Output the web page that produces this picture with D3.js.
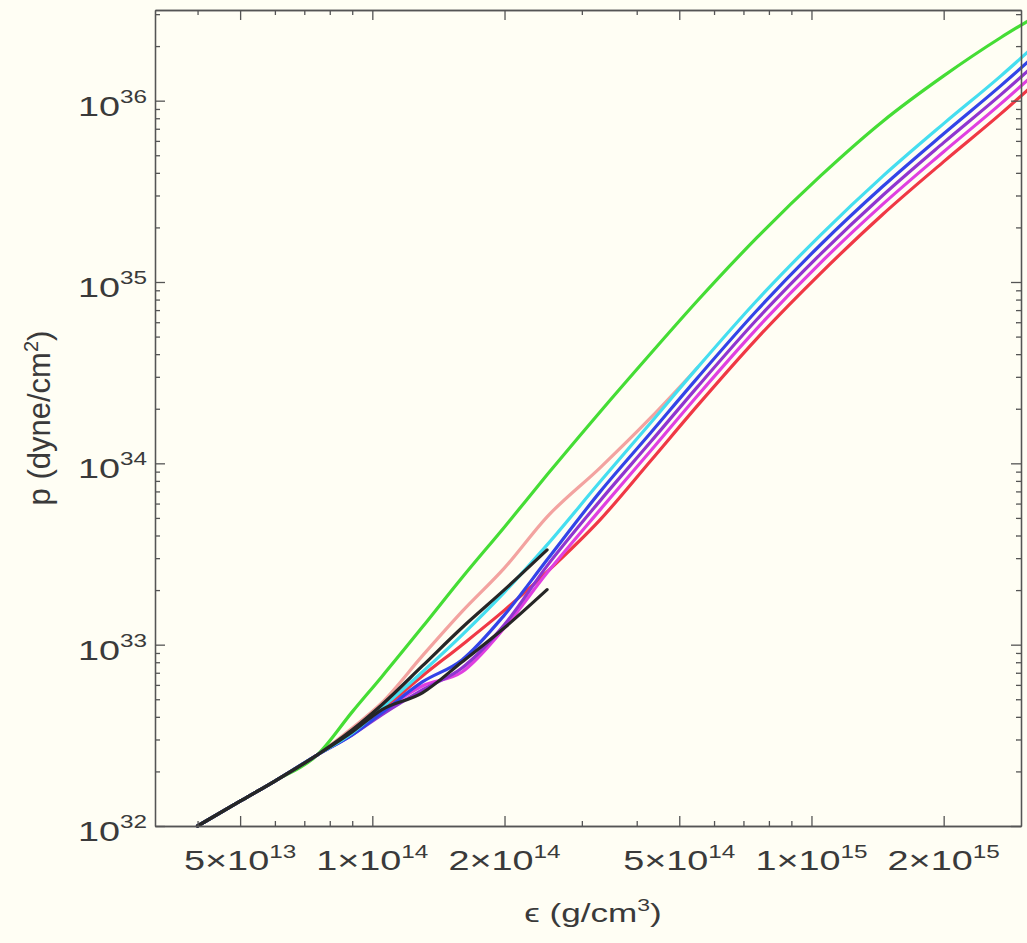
<!DOCTYPE html>
<html><head><meta charset="utf-8">
<script src="https://cdn.jsdelivr.net/npm/d3@7"></script>
<style>
html,body{margin:0;padding:0;background:#fffef4;}
svg{display:block;}
text{font-family:"Liberation Sans",Arial,Helvetica,sans-serif;fill:#3a3a3a;}
</style></head><body>
<svg id="chart" width="1027" height="943"></svg>
<script>
// energy density grid (g/cm^3)
const epsGrid = [4e13, 5e13, 6e13, 7.5e13, 9e13, 1.05e14, 1.3e14, 1.6e14, 2e14, 2.5e14,
                 3.3e14, 4.3e14, 5.5e14, 7.5e14, 1.05e15, 1.45e15, 2e15, 2.7e15, 3.15e15];
// pressure (dyne/cm^2) for each EOS, aligned with epsGrid (null = not present)
const pGreen   = [1.0e32, 1.37e32, 1.77e32, 2.47e32, 4.26e32, 6.64e32, 1.25e33, 2.34e33, 4.46e33, 8.64e33,
                  1.92e34, 4.02e34, 7.88e34, 1.75e35, 3.86e35, 7.66e35, 1.37e36, 2.23e36, 2.80e36];
const pCyan    = [1.0e32, 1.37e32, 1.77e32, 2.47e32, 3.26e32, 4.48e32, 7.07e32, 1.13e33, 1.95e33, 3.55e33,
                  7.91e33, 1.67e34, 3.37e34, 7.88e34, 1.82e35, 3.81e35, 7.47e35, 1.37e36, 1.91e36];
const pBlue    = [1.0e32, 1.37e32, 1.77e32, 2.47e32, 3.18e32, 4.20e32, 6.23e32, 8.24e32, 1.46e33, 2.94e33,
                  6.96e33, 1.47e34, 2.96e34, 6.94e34, 1.61e35, 3.35e35, 6.57e35, 1.21e36, 1.68e36];
const pPurple  = [1.0e32, 1.37e32, 1.77e32, 2.47e32, 3.18e32, 4.10e32, 5.63e32, 7.44e32, 1.29e33, 2.72e33,
                  6.21e33, 1.31e34, 2.64e34, 6.19e34, 1.43e35, 2.99e35, 5.87e35, 1.08e36, 1.50e36];
const pMagenta = [1.0e32, 1.37e32, 1.77e32, 2.47e32, 3.22e32, 4.26e32, 5.92e32, 7.07e32, 1.24e33, 2.49e33,
                  5.54e33, 1.17e34, 2.36e34, 5.52e34, 1.28e35, 2.67e35, 5.23e35, 9.63e35, 1.34e36];
const pRed     = [1.0e32, 1.37e32, 1.77e32, 2.47e32, 3.30e32, 4.37e32, 6.72e32, 9.97e32, 1.55e33, 2.52e33,
                  4.88e33, 1.03e34, 2.08e34, 4.86e34, 1.12e35, 2.35e35, 4.61e35, 8.48e35, 1.18e36];
const pSalmon  = [1.0e32, 1.37e32, 1.77e32, 2.47e32, 3.47e32, 4.77e32, 8.67e32, 1.52e33, 2.65e33, 5.07e33,
                  9.45e33, 1.78e34, 3.37e34, null, null, null, null, null, null];
const pBlackA  = [1.0e32, 1.37e32, 1.77e32, 2.47e32, 3.39e32, 4.65e32, 7.63e32, 1.24e33, 2.01e33, 3.33e33,
                  null, null, null, null, null, null, null, null, null];
const pBlackB  = [1.0e32, 1.37e32, 1.77e32, 2.47e32, 3.30e32, 4.37e32, 5.42e32, 8.03e32, 1.24e33, 2.01e33,
                  null, null, null, null, null, null, null, null, null];

const seriesNames  = ["salmon", "green", "red", "magenta", "purple", "blue", "cyan", "blackB", "blackA"];
const seriesValues = [pSalmon, pGreen, pRed, pMagenta, pPurple, pBlue, pCyan, pBlackB, pBlackA];
const seriesColors = ["#f3a3a0", "#45dd35", "#f03845", "#e040e0", "#9035d0", "#3343e8", "#45def0", "#262626", "#262626"];

// axis ticks
const xMajor = [5e13, 1e14, 2e14, 5e14, 1e15, 2e15];
const xMajorMant = ["5", "1", "2", "5", "1", "2"];
const xMajorExp  = ["13", "14", "14", "14", "15", "15"];
const xMinor = [4e13, 6e13, 7e13, 8e13, 9e13, 3e14, 4e14, 6e14, 7e14, 8e14, 9e14];
const yMajor = [1e32, 1e33, 1e34, 1e35, 1e36];
const yMajorExp = ["32", "33", "34", "35", "36"];
const yMinorMult = [2, 3, 4, 5, 6, 7, 8, 9];

const L = 155, R = 1021, T = 10, B = 826;
const svg = d3.select("#chart");
svg.append("rect").attr("width", 1027).attr("height", 943).attr("fill", "#fffef4");

const x = d3.scaleLog().domain([3.2e13, 3.0e15]).range([L, R]);
const y = d3.scaleLog().domain([1e32, Math.pow(10, 36.5)]).range([B, T]);

const yMinor = [];
yMajor.forEach(v => yMinorMult.forEach(m => { if (v * m < y.domain()[1]) yMinor.push(v * m); }));

// curves
const line = d3.line()
  .defined(d => d[1] != null)
  .x(d => x(d[0])).y(d => y(d[1]))
  .curve(d3.curveMonotoneX);

seriesValues.forEach((vals, i) => {
  const pts = epsGrid.map((e, j) => [e, vals[j]]);
  svg.append("path")
    .datum(pts)
    .attr("class", "eos " + seriesNames[i])
    .attr("fill", "none")
    .attr("stroke", seriesColors[i])
    .attr("stroke-width", 3.2)
    .attr("stroke-linejoin", "round")
    .attr("stroke-linecap", "round")
    .attr("d", line);
});

// axes (ticks pointing inward on all sides)
function styleAxis(g) {
  g.selectAll(".domain, .tick line").attr("stroke", "#555").attr("stroke-width", 1.3);
  g.selectAll("text").remove();
}
const axes = [
  [d3.axisTop, `translate(0,${B})`, x, xMajor, xMinor],
  [d3.axisBottom, `translate(0,${T})`, x, xMajor, xMinor],
  [d3.axisRight, `translate(${L},0)`, y, yMajor, yMinor],
  [d3.axisLeft, `translate(${R},0)`, y, yMajor, yMinor]
];
axes.forEach(([fn, tr, sc, maj, min]) => {
  svg.append("g").attr("transform", tr)
    .call(fn(sc).tickValues(min).tickSize(5).tickSizeOuter(0).tickFormat(""))
    .call(styleAxis);
  svg.append("g").attr("transform", tr)
    .call(fn(sc).tickValues(maj).tickSize(10).tickSizeOuter(0).tickFormat(""))
    .call(styleAxis);
});

// x tick labels
xMajor.forEach((v, i) => {
  const t = svg.append("text")
    .attr("transform", `translate(${x(v)},870) scale(1.35,1)`)
    .attr("text-anchor", "middle")
    .style("font-size", "28px");
  t.append("tspan").text(xMajorMant[i] + "×10");
  t.append("tspan").attr("dy", -12).style("font-size", "18px").text(xMajorExp[i]);
});

// y tick labels
yMajor.forEach((v, i) => {
  const t = svg.append("text")
    .attr("transform", `translate(147,${y(v) + 15}) scale(1.35,1)`)
    .attr("text-anchor", "end")
    .style("font-size", "28px");
  t.append("tspan").text("10");
  t.append("tspan").attr("dy", -13).style("font-size", "18px").text(yMajorExp[i]);
});

// axis titles
const xt = svg.append("text")
  .attr("transform", `translate(${(L + R) / 2 + 5},922) scale(1.35,1)`)
  .attr("text-anchor", "middle")
  .style("font-size", "26px");
xt.append("tspan").text("ϵ (g/cm");
xt.append("tspan").attr("dy", -11).style("font-size", "17px").text("3");
xt.append("tspan").attr("dy", 11).text(")");

const yt = svg.append("text")
  .attr("transform", `translate(50,${(T + B) / 2}) rotate(-90)`)
  .attr("text-anchor", "middle")
  .style("font-size", "31px");
yt.append("tspan").text("p (dyne/cm");
yt.append("tspan").attr("dy", -12).style("font-size", "20px").text("2");
yt.append("tspan").attr("dy", 12).text(")");
</script>
</body></html>
